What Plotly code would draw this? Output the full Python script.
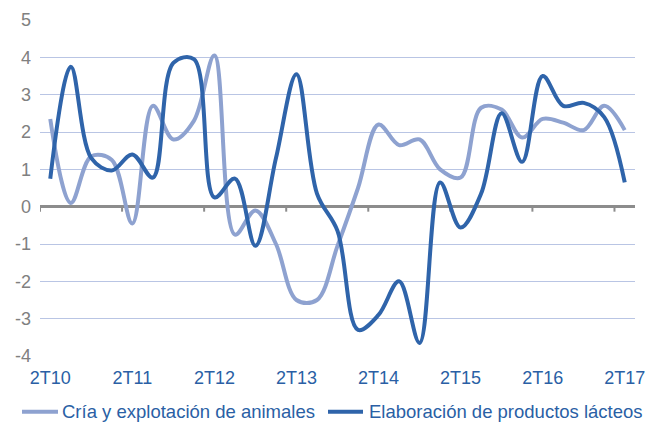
import plotly.graph_objects as go

# Quarterly periods from 2T10 to 2T17
quarters = [f"{q}T{y:02d}" for y in range(10, 18) for q in (1, 2, 3, 4)][1:30]
tick_labels = ["2T10", "2T11", "2T12", "2T13", "2T14", "2T15", "2T16", "2T17"]
y_ticks = [-4, -3, -2, -1, 0, 1, 2, 3, 4, 5]

cria = [2.35, 0.1, 1.35, 1.25, -0.45, 2.7, 1.8, 2.3, 4.05, -0.75,
        -0.1, -1.0, -2.5, -2.5, -1.05, 0.5, 2.2, 1.65, 1.8, 1.0,
        0.78, 2.65, 2.6, 1.85, 2.35, 2.25, 2.05, 2.7, 2.05]
lacteos = [0.75, 3.75, 1.3, 0.97, 1.4, 0.78, 3.85, 3.95, 0.25, 0.75,
           -1.05, 1.3, 3.55, 0.35, -0.65, -3.3, -2.9, -2.0, -3.65, 0.65,
           -0.56, 0.35, 2.5, 1.2, 3.5, 2.7, 2.78, 2.4, 0.65]

series = [
    ("Cría y explotación de animales", cria, "#8EA2D0"),
    ("Elaboración de productos lácteos", lacteos, "#2F64AA"),
]

TEXT_BLUE = "#2A5FA5"
GRID = "#B9C5E4"
AXIS_GRAY = "#8C8C8C"
FONT = "Liberation Sans, Arial, sans-serif"

W, H = 648, 423
M = dict(l=40, r=13, t=20, b=67)
plot_w = W - M["l"] - M["r"]
plot_h = H - M["t"] - M["b"]


def px_to_paper(px, py):
    return (px - M["l"]) / plot_w, (H - M["b"] - py) / plot_h


idx = list(range(len(quarters)))
label_pos = [quarters.index(t) for t in tick_labels]
# category boundaries carrying the small tick marks on the zero axis
boundaries = [p - 0.5 for p in label_pos]

fig = go.Figure()
for name, vals, color in series:
    fig.add_trace(go.Scatter(
        x=idx, y=vals, mode="lines", name=name, showlegend=False,
        line=dict(color=color, width=4, shape="spline", smoothing=1),
        customdata=quarters, hovertemplate="%{customdata}: %{y}<extra></extra>",
    ))

for b in boundaries:
    fig.add_shape(type="line", xref="x", yref="y", ysizemode="pixel",
                  yanchor=0, x0=b, x1=b, y0=0, y1=-5,
                  line=dict(color=AXIS_GRAY, width=2), layer="below")

# legend row below the axis labels: sample line followed by its label
legend_y = 411.7
legend_slots = [(22, 58, 61), (328, 363, 368)]
for (name, _, color), (s0, s1, tx) in zip(series, legend_slots):
    x0, yl = px_to_paper(s0, legend_y)
    x1, _ = px_to_paper(s1, legend_y)
    fig.add_shape(type="line", xref="paper", yref="paper",
                  x0=x0, x1=x1, y0=yl, y1=yl,
                  line=dict(color=color, width=4))
    xt, _ = px_to_paper(tx, legend_y)
    fig.add_annotation(xref="paper", yref="paper", x=xt, y=yl,
                       xanchor="left", yanchor="middle", showarrow=False,
                       text=name, borderpad=0,
                       font=dict(size=18.5, color=TEXT_BLUE))

fig.update_layout(
    width=W, height=H,
    margin=dict(**M, autoexpand=False),
    paper_bgcolor="white", plot_bgcolor="white",
    font=dict(family=FONT, size=18),
    showlegend=False,
    xaxis=dict(
        range=[-0.5, len(quarters) - 0.5],
        tickvals=label_pos, ticktext=tick_labels,
        showgrid=False, showline=False, zeroline=False, ticks="",
        tickfont=dict(size=18, color=TEXT_BLUE), ticklabelstandoff=9,
    ),
    yaxis=dict(
        range=[-4, 5], tickvals=y_ticks, ticktext=[str(v) for v in y_ticks],
        showgrid=True, gridcolor=GRID, gridwidth=1,
        zeroline=True, zerolinecolor=AXIS_GRAY, zerolinewidth=2.5,
        showline=False, ticks="",
        tickfont=dict(size=18, color="#808080"), ticklabelstandoff=8,
    ),
)

fig.write_html("out.html")
